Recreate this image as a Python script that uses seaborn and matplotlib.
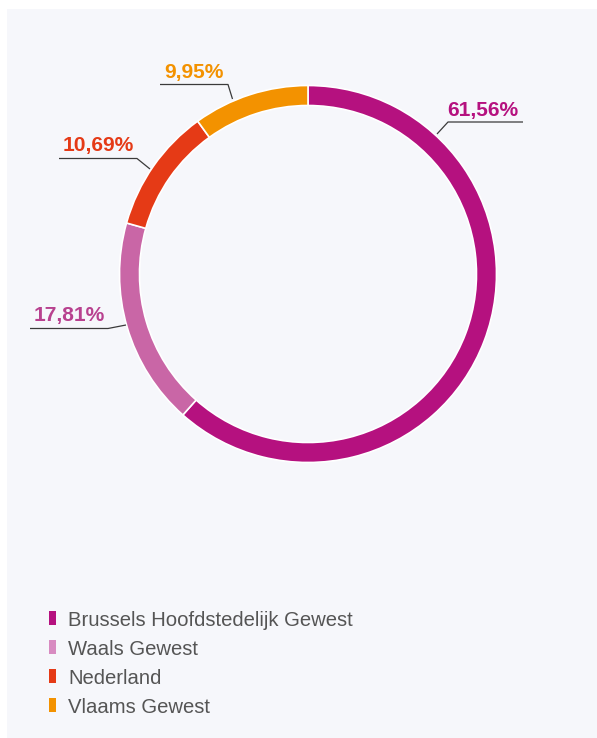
import matplotlib
matplotlib.use("Agg")
import matplotlib.pyplot as plt
from matplotlib.patches import Rectangle
import seaborn as sns

# Share of companies by region
categories = ["Brussels Hoofdstedelijk Gewest", "Waals Gewest", "Nederland", "Vlaams Gewest"]
shares = [61.56, 17.81, 10.69, 9.95]
share_labels = ["61,56%", "17,81%", "10,69%", "9,95%"]

wedge_colors = ["#b5117f", "#c966a6", "#e53a16", "#f39200"]
legend_colors = ["#b5117f", "#d88bc1", "#e53a16", "#f39200"]
label_colors = ["#b5117f", "#b8418f", "#e53a16", "#f39200"]

sns.set_theme(style="white")
plt.rcParams["font.family"] = ["Liberation Sans", "DejaVu Sans"]

W, H = 597, 738
fig = plt.figure(figsize=(W / 100, H / 100), dpi=100, facecolor="white")
ax = fig.add_axes([0, 0, 1, 1])

# light panel behind the chart
ax.add_patch(Rectangle((7, 9), W - 7, H - 9, facecolor="#f6f7fb",
                       edgecolor="none", zorder=0))

# donut, starting at 12 o'clock and running clockwise (y axis points down)
ax.pie(shares, colors=sns.color_palette(wedge_colors), center=(308, 274),
       radius=188.5, startangle=-90, counterclock=True, frame=True,
       wedgeprops=dict(width=20, edgecolor="white", linewidth=1.2))

# leader lines: ring point -> elbow -> end of underline
leaders = [
    [(437, 134), (448, 122), (523, 122)],
    [(126, 325), (108, 328.5), (30, 328.5)],
    [(150, 169), (137, 158.5), (59, 158.5)],
    [(232.5, 99), (228, 84.5), (160, 84.5)],
]
label_pos = [(483, 116), (69.5, 321.5), (98.5, 151.5), (194, 78)]

for pts, (tx, ty), txt, col in zip(leaders, label_pos, share_labels, label_colors):
    xs, ys = zip(*pts)
    ax.plot(xs, ys, color="#3a3a3a", lw=0.9, solid_capstyle="butt", zorder=3)
    ax.text(tx, ty, txt, color=col, fontsize=15.1, fontweight="bold",
            ha="center", va="baseline", zorder=4)

# legend
for i, (name, col) in enumerate(zip(categories, legend_colors)):
    base = 625.8 + i * 29.2
    ax.add_patch(Rectangle((49, base - 15), 7, 14, facecolor=col,
                           edgecolor="none", zorder=3))
    ax.text(68, base, name, color="#555555", fontsize=14.6,
            ha="left", va="baseline", zorder=4)

ax.set_xlim(0, W)
ax.set_ylim(H, 0)
ax.set_aspect("auto")
ax.axis("off")

fig.savefig("out.png", dpi=100, facecolor="white")
